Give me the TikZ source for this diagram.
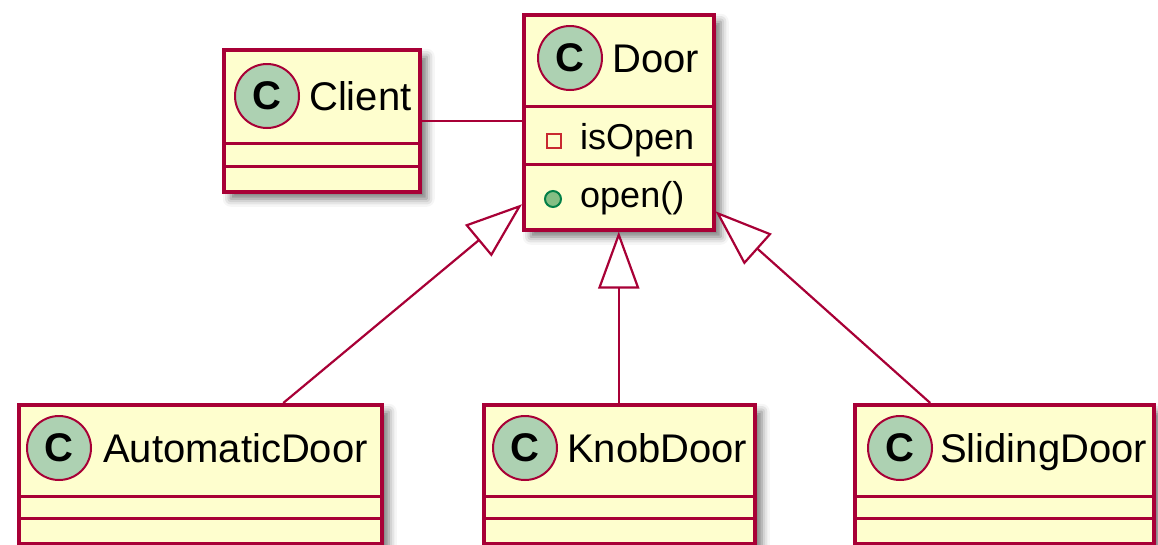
\documentclass[tikz,border=0pt]{standalone}
\usepackage{fontspec}
\setmainfont{Liberation Sans}
\usetikzlibrary{shadows.blur,arrows.meta,calc}
\definecolor{boxfill}{HTML}{FEFECE}
\definecolor{boxline}{HTML}{A80036}
\definecolor{cfill}{HTML}{ADD1B2}
\definecolor{privred}{HTML}{C82930}
\definecolor{pubfill}{HTML}{84BE84}
\definecolor{publine}{HTML}{038048}
\tikzset{
  x=1pt, y=-1pt,
  classbox/.style={draw=boxline, fill=boxfill, line width=3.5pt, rectangle, inner sep=0pt, anchor=north west,
    blur shadow={shadow xshift=7pt, shadow yshift=-7pt, shadow blur radius=8pt, shadow opacity=55}},
  sepline/.style={draw=boxline, line width=3pt},
  cmark/.style={circle, draw=boxline, fill=cfill, line width=2pt, minimum size=64pt, inner sep=0pt,
    font=\fontsize{40}{40}\selectfont\bfseries},
  cname/.style={anchor=base west, inner sep=0pt, font=\fontsize{40}{40}\selectfont},
  member/.style={anchor=base west, inner sep=0pt, font=\fontsize{36}{36}\selectfont},
  privmark/.style={rectangle, draw=privred, line width=2pt, minimum size=14pt, inner sep=0pt},
  pubmark/.style={circle, draw=publine, fill=pubfill, line width=2pt, minimum size=16pt, inner sep=0pt},
  conn/.style={draw=boxline, line width=2.2pt},
  inherit/.style={conn, -{Triangle[open, length=57pt, width=41pt, line width=2.2pt, fill=white]}},
}
\begin{document}
\begin{tikzpicture}
\useasboundingbox (0,0) rectangle (1158,544);

% Client
\node[classbox, minimum width=196pt, minimum height=142pt] (client) at (222,48) {};
\draw[sepline] (222,143) -- (418,143);
\draw[sepline] (222,166) -- (418,166);
\node[cmark] (clientc) at (267,96) {C};
\node[cname] (clientn) at (309,110) {Client};

% Door
\node[classbox, minimum width=190pt, minimum height=215pt] (door) at (522,13) {};
\draw[sepline] (522,106) -- (712,106);
\draw[sepline] (522,164) -- (712,164);
\node[cmark] (doorc) at (570,58) {C};
\node[cname] (doorn) at (612,72) {Door};
\node[privmark] (priv) at (554,141) {};
\node[member] (isopen) at (580,149) {isOpen};
\node[pubmark] (pub) at (553,199) {};
\node[member] (open) at (580,207) {open()};

% AutomaticDoor
\node[classbox, minimum width=363pt, minimum height=139pt] (auto) at (17,403) {};
\draw[sepline] (17,496) -- (380,496);
\draw[sepline] (17,518) -- (380,518);
\node[cmark] (autoc) at (59,448) {C};
\node[cname] (auton) at (103,462) {AutomaticDoor};

% KnobDoor
\node[classbox, minimum width=271pt, minimum height=139pt] (knob) at (482,403) {};
\draw[sepline] (482,496) -- (753,496);
\draw[sepline] (482,518) -- (753,518);
\node[cmark] (knobc) at (525,448) {C};
\node[cname] (knobn) at (567,462) {KnobDoor};

% SlidingDoor
\node[classbox, minimum width=299pt, minimum height=139pt] (slide) at (853,403) {};
\draw[sepline] (853,496) -- (1152,496);
\draw[sepline] (853,518) -- (1152,518);
\node[cmark] (slidec) at (900,448) {C};
\node[cname] (sliden) at (940,462) {SlidingDoor};

% connectors
\draw[conn] (client.east) -- (client.east -| door.west);
\draw[inherit] ($(auto.north)+(83,0)$) -- ($(door.west)+(0,82)$);
\draw[inherit] (door.south |- knob.north) -- (door.south);
\draw[inherit] ($(slide.north)+(-74,0)$) -- ($(door.east)+(0,89)$);
\end{tikzpicture}
\end{document}
